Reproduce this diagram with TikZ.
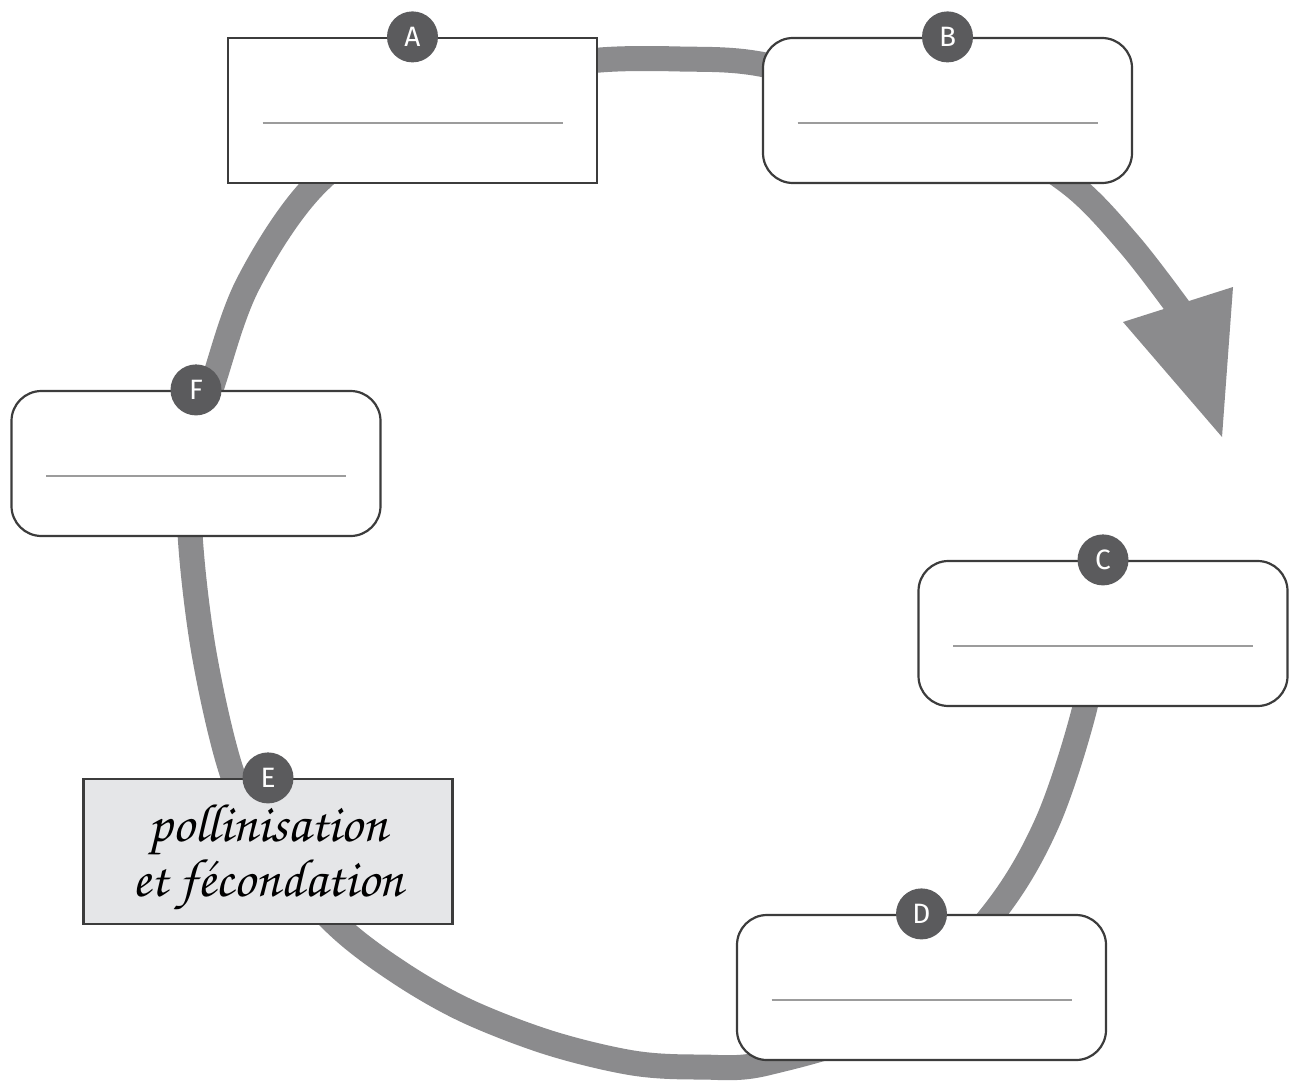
\documentclass[tikz,border=0pt]{standalone}
\usepackage{fontspec}
\setsansfont{Fira Sans}
\newcommand\cursivefnt{\fontencoding{T1}\fontfamily{pzc}\fontseries{mb}\fontshape{it}\fontsize{27}{27.5}\selectfont}
\definecolor{ringgray}{HTML}{8B8B8D}
\definecolor{taggray}{HTML}{5B5B5D}
\definecolor{boxline}{HTML}{3C3C3C}
\definecolor{linegray}{HTML}{9C9C9C}
\definecolor{egray}{HTML}{E5E6E8}
\begin{document}
\begin{tikzpicture}[x=0.5pt,y=-0.5pt,
  ring/.style={draw=ringgray, line width=12.5pt},
  box/.style={draw=boxline, line width=1.1pt, fill=white, minimum width=184.5pt, minimum height=72.5pt, inner sep=0pt},
  rbox/.style={box, rounded corners=15pt},
  tag/.style={circle, fill=taggray, minimum size=25.5pt, inner sep=0pt, text=white, font=\sffamily\fontsize{14}{16}\selectfont},
  wline/.style={draw=linegray, line width=1pt}]
\useasboundingbox (0,0) rectangle (1289,1081);
% ring
\draw[ring] plot[smooth, tension=0.55] coordinates {(1092,640) (1085,707) (1047,823) (992,915) (890,1020) (767,1063) (700,1067) (633,1063) (550,1043) (467,1011) (400,973) (337,925) (270,850) (232,773) (204,653) (190,533) (193,450) (213,383) (248,284) (315,185) (420,108) (520,72) (600,60) (680,59) (760,64) (880,95) (990,135) (1072,185) (1130,245) (1180,310)};
\fill[ringgray] (1123,322) -- (1233,287) -- (1222,437) -- cycle;
% boxes
\node[box] (A) at (412.5,110.5) {};
\node[rbox] (B) at (947.5,110.5) {};
\node[rbox] (C) at (1103,633.5) {};
\node[rbox] (D) at (921.5,987.5) {};
\node[box, fill=egray, align=center, font=\cursivefnt] (E) at (268,851.5) {\rule{0pt}{17pt}\smash{pollinisation}\\\smash{et f\'econdation}};
\node[rbox] (F) at (196,463.5) {};
% answer lines
\foreach \b in {A,B,C,D,F}
  \draw[wline] ([shift={(-150,12.5)}]\b.center) -- ([shift={(150,12.5)}]\b.center);
% tags
\foreach \b in {A,B,C,D,E,F}
  \node[tag] (t\b) at (\b.north) {\b};
\end{tikzpicture}
\end{document}
